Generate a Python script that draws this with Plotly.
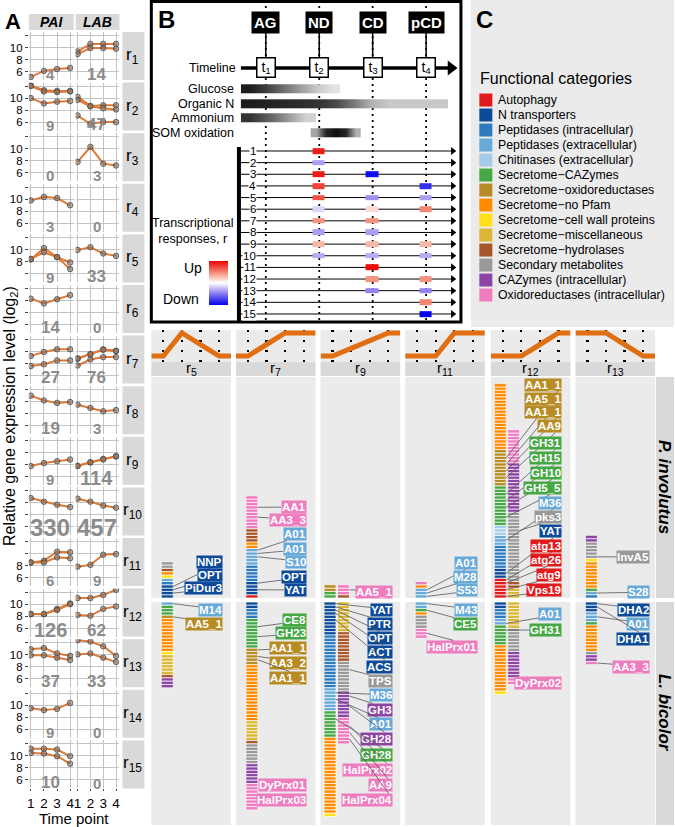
import plotly.graph_objects as go

W, H = 675, 827
FONT = "Liberation Sans, Arial, Helvetica, sans-serif"


def px(x):
    return x / W


def py(y):
    return 1 - y / H


# ======================= DATA =======================
time_points = [1, 2, 3, 4]
response_ids = list(range(1, 16))

# Panel A: gene counts per response & profile lines (log2 expression)
pai_counts = [4, 9, 0, 3, 9, 14, 27, 19, 9, 330, 6, 126, 37, 9, 10]
lab_counts = [14, 47, 3, 0, 33, 0, 76, 3, 114, 457, 9, 62, 33, 0, 0]

pai_profiles = {
    1: [[5.1, 6.1, 6.4, 6.6]],
    2: [[12.1, 11.3, 11.2, 11.2], [12.0, 11.1, 11.0, 11.1], [10.0, 9.1, 9.4, 9.5]],
    4: [[9.8, 10.4, 10.2, 9.0]],
    5: [[8.4, 10.3, 8.8, 7.9], [8.5, 9.6, 8.8, 6.8]],
    6: [[10.3, 9.5, 10.2, 10.9]],
    7: [[9.2, 9.85, 10.3, 10.3], [7.5, 7.8, 8.45, 8.45]],
    8: [[11.0, 10.2, 9.8, 9.95]],
    9: [[7.7, 8.2, 8.5, 8.8]],
    10: [[10.8, 10.2, 9.7, 9.3]],
    11: [[8.5, 8.8, 10.3, 10.2], [8.5, 8.5, 9.35, 9.2]],
    12: [[8.3, 8.3, 9.2, 10.1], [8.35, 8.35, 9.0, 10.0]],
    13: [[10.9, 11.1, 10.2, 9.8], [9.9, 9.9, 9.5, 9.1]],
    14: [[9.5, 9.2, 9.4, 10.4]],
    15: [[11.2, 11.2, 11.05, 9.95], [10.5, 10.4, 9.95, 8.7]],
}
lab_profiles = {
    1: [[9.35, 10.6, 10.6, 10.6], [8.9, 9.9, 9.9, 9.8]],
    2: [[10.2, 8.7, 8.8, 8.8], [9.7, 8.6, 8.3, 8.1], [7.1, 5.7, 6.0, 6.0]],
    3: [[7.8, 10.3, 7.5, 7.2]],
    5: [[10.0, 10.45, 9.4, 9.0]],
    7: [[8.7, 9.45, 10.3, 10.05], [8.8, 9.5, 10.2, 10.0], [7.6, 8.6, 9.0, 9.0]],
    8: [[9.5, 8.95, 8.4, 8.6]],
    9: [[7.7, 8.3, 8.9, 9.3], [7.75, 8.35, 8.8, 9.35]],
    10: [[10.7, 10.2, 9.55, 9.2]],
    11: [[7.8, 8.1, 9.8, 9.9]],
    12: [[11.0, 11.0, 11.5, 12.4], [8.2, 8.05, 9.2, 9.6]],
    13: [[12.4, 12.2, 11.4, 9.8], [10.05, 10.2, 9.5, 8.8]],
}

# Panel B
events = ["AG", "ND", "CD", "pCD"]
nutrients = ["Glucose", "Organic N", "Ammonium", "SOM oxidation"]
glucose_t = [0.69, 1.0, 1.31, 1.62, 1.93, 2.24]
glucose_v = [0.95, 0.8, 0.6, 0.4, 0.2, 0.08]
organicN_t = [0.695, 1.018, 1.341, 1.664, 1.987, 2.31, 2.633, 2.956, 3.279, 3.602, 3.925, 4.248]
organicN_v = [0.95, 0.92, 0.9, 0.88, 0.85, 0.75, 0.55, 0.3, 0.2, 0.2, 0.2, 0.2]
ammonium_t = [0.709, 1.058, 1.407, 1.756]
ammonium_v = [0.85, 0.65, 0.4, 0.15]
som_t = [1.933, 2.119, 2.305, 2.491, 2.677]
som_v = [0.35, 0.9, 1.0, 0.9, 0.3]
nutrient_t = [glucose_t, organicN_t, ammonium_t, som_t]
nutrient_v = [glucose_v, organicN_v, ammonium_v, som_v]

# up (+) / down (-) response intensity at t2, t3, t4 for r1..r15
resp_t2 = [0.9, -0.35, 0.9, 0.75, 0.7, -0.15, 0.45, -0.35, 0.3, -0.3, None, None, None, None, None]
resp_t3 = [None, None, -0.95, None, -0.4, 0.15, 0.45, -0.35, 0.3, -0.3, 0.95, 0.45, -0.45, None, None]
resp_t4 = [None, None, None, -0.8, -0.35, 0.5, None, None, 0.3, -0.3, None, 0.45, -0.45, 0.5, -1.0]

# Panel C
categories = [
    "Autophagy", "N transporters", "Peptidases (intracellular)", "Peptidases (extracellular)",
    "Chitinases (extracellular)", "Secretome\u2212CAZymes", "Secretome\u2212oxidoreductases",
    "Secretome\u2212no Pfam", "Secretome\u2212cell wall proteins", "Secretome\u2212miscellaneous",
    "Secretome\u2212hydrolases", "Secondary metabolites", "CAZymes (intracellular)",
    "Oxidoreductases (intracellular)",
]
cat_colors = [
    "#e31a1c", "#0c4a9a", "#2c7bbf", "#67a9d9", "#a3cce9", "#45a845", "#b88c24",
    "#ff8c00", "#ffe11a", "#dbb737", "#a9552a", "#999999", "#8e44a4", "#f07cc0",
]

# Bottom-right: profile shapes and gene bars (category, n genes)
profile_cols = ["r5", "r7", "r9", "r11", "r12", "r13"]
profile_shapes = {
    "r5": [0, 1, 0.5, 0], "r7": [0, 0.5, 1, 1], "r9": [0, 0.33, 0.67, 1],
    "r11": [0, 0, 1, 1], "r12": [0, 0, 0.5, 1], "r13": [1, 1, 0.5, 0],
}
pinv_bars = {
    "r5": [[(1, 4), (2, 1), (3, 1), (8, 1), (7, 1), (10, 1), (11, 2)]],
    "r7": [[(0, 1), (1, 4), (2, 5), (3, 5), (7, 2), (10, 4), (13, 10)]],
    "r9": [[(5, 2), (6, 2)], [(10, 1), (13, 3)]],
    "r11": [[(3, 3), (7, 1), (13, 1)]],
    "r12": [[(0, 6), (1, 3), (2, 7), (3, 3), (4, 3), (5, 12), (6, 11), (7, 20)],
            [(9, 3), (10, 2), (11, 21), (12, 15), (13, 10)]],
    "r13": [[(2, 1), (3, 1), (5, 1), (7, 8), (8, 1), (11, 5), (12, 2)]],
}
lbic_bars = {
    "r5": [[(3, 1), (5, 3), (6, 1), (7, 10), (8, 1), (9, 6), (10, 1), (12, 3)]],
    "r7": [[(1, 2), (2, 3), (5, 9), (6, 5), (7, 17), (9, 6), (10, 1), (11, 6), (12, 6), (13, 8)]],
    "r9": [[(1, 10), (2, 16), (3, 7), (5, 8), (7, 23), (8, 1)],
           [(9, 9), (10, 9), (11, 9), (12, 8), (13, 8)]],
    "r11": [[(3, 2), (5, 1), (7, 1), (11, 4), (13, 3)]],
    "r12": [[(1, 2), (2, 3), (3, 2), (5, 6), (7, 14), (8, 1)], [(9, 8), (11, 7), (12, 8), (13, 2)]],
    "r13": [[(1, 3), (3, 3), (5, 1), (7, 8), (11, 1), (12, 2), (13, 1)]],
}
# gene labels: (text, category, bar index, gene index within bar)
pinv_labels = {
    "r5": [("NNP", 1, 0, 3), ("OPT", 1, 0, 2), ("PiDur3", 1, 0, 1)],
    "r7": [("AA1", 13, 0, 27), ("AA3_3", 13, 0, 24), ("A01", 3, 0, 14), ("A01", 3, 0, 13),
           ("S10", 3, 0, 12), ("OPT", 1, 0, 4), ("YAT", 1, 0, 2)],
    "r9": [("AA5_1", 13, 1, 2)],
    "r11": [("A01", 3, 0, 2), ("M28", 3, 0, 1), ("S53", 3, 0, 0)],
    "r12": [("AA1_1", 6, 0, 42), ("AA5_1", 6, 0, 40), ("AA1_1", 6, 0, 38), ("AA9", 6, 0, 36),
            ("GH31", 5, 0, 31), ("GH15", 5, 0, 29), ("GH10", 5, 0, 27), ("GH5_5", 5, 0, 24),
            ("M36", 3, 0, 17), ("pks3", 11, 1, 20), ("YAT", 1, 0, 7), ("atg13", 0, 0, 5),
            ("atg26", 0, 0, 4), ("atg9", 0, 0, 2), ("Vps19", 0, 0, 0)],
    "r13": [("InvA5", 11, 0, 12), ("S28", 3, 0, 1)],
}
lbic_labels = {
    "r5": [("M14", 3, 0, 0), ("AA5_1", 6, 0, 4)],
    "r7": [("CE8", 5, 0, 7), ("GH23", 5, 0, 10), ("AA1_1", 6, 0, 14), ("AA3_2", 6, 0, 16),
           ("AA1_1", 6, 0, 17), ("DyPrx01", 13, 0, 56), ("HalPrx03", 13, 0, 59)],
    "r9": [("YAT", 1, 0, 0), ("PTR", 1, 0, 1), ("OPT", 1, 0, 2), ("ACT", 1, 0, 3), ("ACS", 1, 0, 5),
           ("TPS", 11, 1, 20), ("M36", 3, 0, 27), ("GH3", 12, 1, 28), ("A01", 3, 0, 29),
           ("GH28", 12, 1, 31), ("GH28", 5, 0, 35), ("HalPrx02", 13, 1, 37), ("AA9", 13, 1, 39),
           ("HalPrx04", 13, 1, 41)],
    "r11": [("M43", 3, 0, 0), ("CE5", 5, 0, 2), ("HalPrx01", 13, 0, 9)],
    "r12": [("A01", 3, 0, 6), ("GH31", 5, 0, 8), ("DyPrx02", 13, 1, 23)],
    "r13": [("DHA2", 1, 0, 0), ("A01", 3, 0, 4), ("DHA1", 1, 0, 1), ("AA3_3", 13, 0, 18)],
}

# ======================= LAYOUT HELPERS =======================
layout_axes, traces, annotations, shapes = {}, [], [], []
_n = [0]
STRIP = "#d9d9d9"
PANEL_BG = "#ebebeb"


def add_axes(x0, x1, y0, y1, xrange, yrange, xkw=None, ykw=None):
    _n[0] += 1
    s = "" if _n[0] == 1 else str(_n[0])
    base = dict(showgrid=False, zeroline=False, showticklabels=False, ticks="",
                showline=False, fixedrange=True)
    xa = dict(base, domain=[px(x0), px(x1)], range=xrange, anchor="y" + s)
    ya = dict(base, domain=[py(y1), py(y0)], range=yrange, anchor="x" + s)
    if xkw:
        xa.update(xkw)
    if ykw:
        ya.update(ykw)
    layout_axes["xaxis" + s] = xa
    layout_axes["yaxis" + s] = ya
    return "x" + s, "y" + s


def rect(x0, y0, x1, y1, color, layer="below", line=None):
    shapes.append(dict(type="rect", xref="paper", yref="paper", x0=px(x0), x1=px(x1),
                       y0=py(y1), y1=py(y0), fillcolor=color,
                       line=line if line else dict(width=0), layer=layer))


def text(x, y, s, size=13, color="black", xanchor="center", yanchor="middle", angle=0, **kw):
    annotations.append(dict(xref="paper", yref="paper", x=px(x), y=py(y), text=s, showarrow=False,
                            font=dict(size=size, color=color, family=FONT), xanchor=xanchor,
                            yanchor=yanchor, textangle=angle, **kw))


def count_font(n):
    return 15 if n < 10 else (17 if n < 100 else (20 if n < 200 else 24))


# ======================= PANEL A =======================
GRID = "#c4c4c4"
LINE_C = "#df7a36"
row_top, row_pitch, row_h = 32, 50.6, 48
YR = [4.58, 12.58]
pxu = row_h / (YR[1] - YR[0])
TITLE_SPAN = (268, 558)   # y-title covers the tick labels in this band
pa_cols = [(27, 72, "PAI", pai_profiles, pai_counts), (74, 118, "LAB", lab_profiles, lab_counts)]
for (x0, x1, name, _, _) in pa_cols:
    rect(x0, 14, x1, 30, STRIP)
    text((x0 + x1) / 2, 22.5, f"<b><i>{name}</i></b>", 14)

for i, r in enumerate(response_ids):
    top = row_top + i * row_pitch
    rect(121, top, 143, top + row_h, STRIP)
    text(131, top + row_h / 2, f"r<sub>{r}</sub>", 17)
    for j, (x0, x1, name, profiles, counts) in enumerate(pa_cols):
        xkw = dict(showgrid=True, gridcolor=GRID, gridwidth=1, tickvals=time_points)
        if i == 14:
            xkw.update(showticklabels=True, ticks="outside", ticklen=2, tickcolor="#444",
                       tickfont=dict(size=13.5, color="black"))
        ykw = dict(showgrid=True, gridcolor=GRID, gridwidth=1, tickvals=[6, 8, 10, 12])
        if j == 0:
            ttext = []
            for v in [6, 8, 10, 12]:
                ypix = top + (YR[1] - v) * pxu
                lab = "" if (v == 12 or TITLE_SPAN[0] < ypix < TITLE_SPAN[1]) else str(v)
                ttext.append(lab)
            ykw.update(showticklabels=True, ticktext=ttext, ticks="outside",
                       ticklen=3, tickcolor="#444", tickfont=dict(size=11.5, color="black"))
        xa, ya = add_axes(x0, x1, top, top + row_h, [0.85, 4.27], YR, xkw, ykw)
        for prof in profiles.get(r, []):
            traces.append(go.Scatter(
                x=time_points, y=prof, xaxis=xa, yaxis=ya, mode="lines+markers",
                line=dict(color=LINE_C, width=2),
                marker=dict(size=5.5, color="rgba(120,105,95,0.55)", line=dict(color="#4d4d4d", width=0.8)),
                showlegend=False, hoverinfo="skip"))
        n = counts[i]
        fs = count_font(n)
        annotations.append(dict(xref=xa, yref=ya, x=2.5, y=YR[0] + 0.05, text=f"<b>{n}</b>",
                                showarrow=False, yanchor="bottom", yshift=-(1.3 + 0.22 * fs),
                                borderpad=0,
                                font=dict(size=fs, color="#8c8c8c", family=FONT)))

text(11, 21, "<b>A</b>", 22)
text(8, 416, "Relative gene expression level (log<sub>2</sub>)", 16, angle=-90)
text(72, 827, "Time point", 15, yanchor="bottom", borderpad=0, yshift=-1)

# ======================= PANEL B =======================
BX = [-1.1427, 4.652]
BY = [15.69, -11.97]
xB, yB = add_axes(150, 461, 0, 322, BX, BY)
event_y, timeline_y = -10.08, -6.13
nutrient_y = [-4.33, -3.04, -1.84, -0.55]

for t in time_points:
    shapes.append(dict(type="line", xref=xB, yref=yB, x0=t, x1=t, y0=BY[1], y1=BY[0],
                       line=dict(color="black", width=1.8, dash="2px,4px"), layer="below"))
    shapes.append(dict(type="line", xref=xB, yref=yB, x0=t, x1=t, y0=event_y, y1=timeline_y,
                       line=dict(color="black", width=1.5), layer="below"))
shapes.append(dict(type="line", xref=xB, yref=yB, x0=0.534, x1=4.45, y0=timeline_y, y1=timeline_y,
                   line=dict(color="black", width=3.5), layer="below"))
traces.append(go.Scatter(x=[4.466], y=[timeline_y], xaxis=xB, yaxis=yB, mode="markers",
                         marker=dict(symbol="triangle-right", size=13, color="black"),
                         showlegend=False, hoverinfo="skip"))
for t, ev in zip(time_points, events):
    annotations.append(dict(xref=xB, yref=yB, x=t, y=event_y, text=f"<b>{ev}</b>", showarrow=False,
                            font=dict(size=15, color="white", family=FONT), bgcolor="black", borderpad=2))
    annotations.append(dict(xref=xB, yref=yB, x=t, y=timeline_y, text=f" t<sub>{t}</sub> ", showarrow=False,
                            font=dict(size=14, color="black", family=FONT), bgcolor="white",
                            bordercolor="black", borderwidth=1.5, borderpad=0))
annotations.append(dict(xref=xB, yref=yB, x=0.478, y=timeline_y, text="Timeline", showarrow=False,
                        xanchor="right", font=dict(size=12.5, color="black", family=FONT)))

for name, tt, vv, yc in zip(nutrients, nutrient_t, nutrient_v, nutrient_y):
    traces.append(go.Heatmap(x=tt, y=[yc - 0.2, yc + 0.2], z=[vv, vv], zsmooth="best",
                             colorscale=[[0, "#f4f4f4"], [1, "#111111"]], zmin=0, zmax=1,
                             showscale=False, xaxis=xB, yaxis=yB, hoverinfo="skip"))
    annotations.append(dict(xref=xB, yref=yB, x=0.441, y=yc, text=name, showarrow=False,
                            xanchor="right", font=dict(size=12.5, color="black", family=FONT)))

# transcriptional responses
shapes.append(dict(type="line", xref=xB, yref=yB, x0=0.497, x1=0.497, y0=0.66, y1=BY[0],
                   line=dict(color="black", width=4), layer="below"))
for r in response_ids:
    shapes.append(dict(type="line", xref=xB, yref=yB, x0=0.497, x1=4.5, y0=r, y1=r,
                       line=dict(color="black", width=1), layer="below"))
    annotations.append(dict(xref=xB, yref=yB, x=0.832, y=r, text=str(r), showarrow=False,
                            xanchor="right", bgcolor="white", borderpad=0,
                            font=dict(size=11.5, color="black", family=FONT)))
traces.append(go.Scatter(x=[4.5] * len(response_ids), y=response_ids, xaxis=xB, yaxis=yB, mode="markers",
                         marker=dict(symbol="triangle-right", size=7, color="black"),
                         showlegend=False, hoverinfo="skip"))
RESP_SCALE = [[0, "#0000ee"], [0.3, "#9f8ff0"], [0.5, "#ffffff"], [0.7, "#f5a08a"], [1, "#ee0000"]]
z_resp = [[resp_t2[i], resp_t3[i], resp_t4[i]] for i in range(len(response_ids))]
traces.append(go.Heatmap(
    x=[2, 3, 4], y=response_ids, z=z_resp, xgap=41, ygap=6, colorscale=RESP_SCALE, zmin=-1, zmax=1,
    xaxis=xB, yaxis=yB, hoverinfo="skip", showscale=True,
    colorbar=dict(x=px(208), xanchor="left", y=py(283), yanchor="middle", len=44, lenmode="pixels",
                  thickness=19, thicknessmode="pixels", xpad=0, ypad=0, showticklabels=False,
                  ticks="", outlinewidth=0)))
text(192, 231, "Transcriptional<br>responses, r", 12.5)
text(203, 268, "Up", 14, xanchor="right")
text(200, 299, "Down", 14, xanchor="right")
rect(150, 1.5, 461, 322, "rgba(0,0,0,0)", layer="above", line=dict(color="black", width=3))
text(165, 20, "<b>B</b>", 24)

# ======================= PANEL C =======================
rect(471, 0, 675, 327, PANEL_BG)
xC, yC = add_axes(471, 675, 0, 327, [0, 204], [15.13, -6.667])
traces.append(go.Scatter(x=[15] * len(categories), y=list(range(len(categories))), xaxis=xC, yaxis=yC,
                         mode="markers", marker=dict(symbol="square", size=13, color=cat_colors,
                                                     line=dict(width=0)),
                         showlegend=False, hoverinfo="skip"))
for k, name in enumerate(categories):
    annotations.append(dict(xref=xC, yref=yC, x=26, y=k, text=name, showarrow=False, xanchor="left",
                            borderpad=0, font=dict(size=12.3, color="black", family=FONT)))
text(478, 78, "Functional categories", 16, xanchor="left")
text(485, 19, "<b>C</b>", 24)

# ======================= BOTTOM RIGHT =======================
col_x = {"r5": (150, 230), "r7": (235, 315), "r9": (320, 400),
         "r11": (405, 485), "r12": (491, 571), "r13": (576, 656)}
label_right = {"r5": 72, "r7": 71, "r9": 73, "r11": 73, "r12": 72, "r13": 75}
pinv_slots = {
    "r5": [11.0, 7.0, 3.0],
    "r7": [27.6, 23.6, 19.4, 14.8, 10.9, 6.4, 2.4],
    "r9": [1.8],
    "r11": [10.6, 6.4, 2.4],
    "r12": [64.6, 60.4, 56.3, 52.1, 47.0, 42.4, 37.9, 33.3, 28.8, 24.5, 20.3, 15.8, 11.5, 7.0, 2.4],
    "r13": [12.4, 1.8],
}
lbic_slots = {
    "r5": [2.4, 6.7],
    "r7": [5.5, 9.4, 13.9, 18.5, 23.0, 55.5, 60.0],
    "r9": [2.4, 6.7, 10.9, 15.2, 19.7, 23.9, 28.2, 32.7, 37.0, 41.5, 46.4, 50.9, 55.5, 60.0],
    "r11": [2.4, 6.7, 13.6],
    "r12": [3.6, 8.5, 24.5],
    "r13": [2.4, 6.7, 11.2, 19.7],
}
PROFILE_C = "#df6f12"
for c in profile_cols:
    x0, x1 = col_x[c]
    rect(x0, 330, x1, 362, PANEL_BG)
    xr = [0.357, 4.64]
    xm, ym = add_axes(x0, x1, 330, 362, xr, [-0.26, 1.13],
                      dict(showgrid=True, tickvals=time_points, gridcolor="black", gridwidth=2.2,
                           griddash="2px,8px"))
    v = profile_shapes[c]
    traces.append(go.Scatter(x=[xr[0]] + time_points + [xr[1]], y=[v[0]] + v + [v[-1]], xaxis=xm, yaxis=ym,
                             mode="lines", line=dict(color=PROFILE_C, width=5), showlegend=False,
                             hoverinfo="skip"))
    rect(x0, 362, x1, 376, STRIP)
    text((x0 + x1) / 2, 368.5, f"r<sub>{c[1:]}</sub>", 15, borderpad=0)

    for bars_d, labels_d, slots_d, (y0, y1), yrange in [
        (pinv_bars, pinv_labels, pinv_slots, (377, 598), [0, 67]),
        (lbic_bars, lbic_labels, lbic_slots, (602, 825), [67.58, 0]),
    ]:
        rect(x0, y0, x1, y1, PANEL_BG)
        xb, yb = add_axes(x0, x1, y0, y1, [0, 80], yrange)
        bars = bars_d[c]
        centers = [16] if len(bars) == 1 else [9.5, 23]
        for b, segs in enumerate(bars):
            colors = []
            for cat, n in segs:
                colors += [cat_colors[cat]] * n
            N = len(colors)
            traces.append(go.Bar(x=[centers[b]] * N, y=[1] * N, base=list(range(N)), width=12,
                                 marker=dict(color=colors, line=dict(color="white", width=0.7)),
                                 xaxis=xb, yaxis=yb, showlegend=False, hoverinfo="skip"))
        for (lab, cat, b, seg), slot in zip(labels_d.get(c, []), slots_d.get(c, [])):
            annotations.append(dict(
                xref=xb, yref=yb, x=centers[b] + 6, y=seg + 0.5, axref=xb, ayref=yb,
                ax=label_right[c], ay=slot, xanchor="right", text=f"<b>{lab}</b>",
                font=dict(color="white", size=11.5, family=FONT), bgcolor=cat_colors[cat], borderpad=0,
                showarrow=True, arrowhead=0, arrowwidth=0.8, arrowcolor="#555555", standoff=0))

rect(657, 377, 675, 598, STRIP)
text(666, 487, "<b><i>P. involutus</i></b>", 17, angle=90)
rect(657, 602, 675, 825, STRIP)
text(666, 713, "<b><i>L. bicolor</i></b>", 17, angle=90)

# ======================= FIGURE =======================
fig = go.Figure(traces)
fig.update_layout(width=W, height=H, margin=dict(l=0, r=0, t=0, b=0), autosize=False,
                  paper_bgcolor="white", plot_bgcolor="rgba(0,0,0,0)", showlegend=False,
                  barmode="overlay", font=dict(family=FONT, color="black"),
                  shapes=shapes, annotations=annotations, **layout_axes)
fig.write_html("out.html", config={"displayModeBar": False, "staticPlot": True},
               post_script="document.body.style.margin='0px';document.body.style.padding='0px';")
